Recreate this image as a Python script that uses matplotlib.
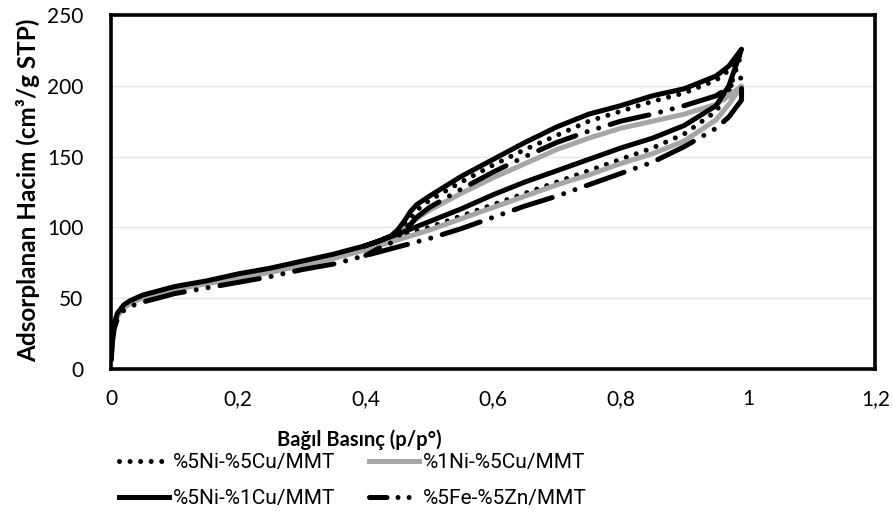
import matplotlib
matplotlib.use("Agg")
import matplotlib.pyplot as plt
from matplotlib.lines import Line2D

# bağıl basınç noktaları (adsorpsiyon ve desorpsiyon kolları)
p_ads = [0.0005, 0.002, 0.005, 0.01, 0.02, 0.03, 0.05, 0.075, 0.1, 0.15, 0.2, 0.25, 0.3, 0.35,
         0.4, 0.45, 0.5, 0.55, 0.6, 0.65, 0.7, 0.75, 0.8, 0.85, 0.9, 0.95, 0.97, 0.99]
p_des = [0.99, 0.97, 0.95, 0.9, 0.85, 0.8, 0.75, 0.7, 0.65, 0.6, 0.55, 0.5, 0.48, 0.47,
         0.46, 0.45, 0.44, 0.42, 0.4]

# %5Ni-%5Cu/MMT (noktalı)
niCu55_ads = [7, 20, 30, 37, 43, 47, 51, 54, 57, 61, 65, 70, 74, 79,
              85, 93, 100, 108, 116, 124, 132, 140, 148, 156, 166, 182, 196, 223]
niCu55_des = [223, 211, 204, 195, 189, 182, 175, 165, 155, 144, 132, 119, 112, 106,
              101, 97, 93, 89, 86]

# %1Ni-%5Cu/MMT (gri)
niCu15_ads = [7, 20, 30, 37, 43, 46, 50, 53, 56, 60, 64, 68, 73, 78,
              84, 91, 98, 106, 114, 122, 130, 137, 145, 152, 161, 176, 187, 200]
niCu15_des = [200, 193, 187, 180, 175, 170, 163, 155, 145, 135, 124, 112, 106, 102,
              98, 94, 91, 88, 84]

# %5Ni-%1Cu/MMT (düz siyah)
niCu51_ads = [8, 22, 32, 39, 45, 48, 52, 55, 58, 62, 67, 71, 76, 81,
              87, 95, 104, 113, 123, 132, 140, 148, 156, 163, 172, 186, 200, 226]
niCu51_des = [226, 214, 207, 198, 193, 186, 180, 171, 160, 148, 136, 122, 116, 111,
              104, 98, 94, 90, 87]

# %5Fe-%5Zn/MMT (uzun çizgi-nokta-nokta)
feZn_ads = [6, 18, 28, 35, 41, 44, 47, 50, 53, 57, 61, 65, 70, 74,
            80, 86, 92, 99, 107, 115, 122, 130, 138, 146, 157, 170, 178, 190]
feZn_des = [206, 199, 193, 186, 180, 175, 168, 160, 150, 139, 127, 114, 107, 102,
            98, 93, 89, 85, 80]

labels = ["%5Ni-%5Cu/MMT", "%1Ni-%5Cu/MMT", "%5Ni-%1Cu/MMT", "%5Fe-%5Zn/MMT"]

fig = plt.figure(figsize=(8.95, 5.21), dpi=100)
ax = fig.add_axes([0.124, 0.2927, 0.854, 0.678])

x = p_ads + p_des
lw = 3.6
l1, = ax.plot(x, niCu55_ads + niCu55_des, color="black", lw=lw,
              linestyle=(0, (0.01, 2.1)), dash_capstyle="round")
l2, = ax.plot(x, niCu15_ads + niCu15_des, color="#a6a6a6", lw=lw, solid_joinstyle="round")
l3, = ax.plot(x, niCu51_ads + niCu51_des, color="black", lw=lw, solid_joinstyle="round")
l4, = ax.plot(x, feZn_ads + feZn_des, color="black", lw=lw,
              linestyle=(0, (8, 2.4, 0.01, 2.4, 0.01, 2.4)), dash_capstyle="round")
# shorter pattern for the legend sample (dash + two dots)
l4_leg = Line2D([], [], color="black", lw=lw, dash_capstyle="round",
                linestyle=(0, (3.5, 2.2, 0.01, 2.2, 0.01, 2.2)))

ax.set_xlim(0, 1.2)
ax.set_ylim(0, 250)
ax.set_xticks([0, 0.2, 0.4, 0.6, 0.8, 1, 1.2])
ax.set_xticklabels(["0", "0,2", "0,4", "0,6", "0,8", "1", "1,2"])
ax.set_yticks([0, 50, 100, 150, 200, 250])
ax.grid(axis="y", color="#e6e6e6", lw=1)
ax.set_axisbelow(True)
ax.tick_params(length=0, labelsize=15)
ax.tick_params(axis="x", pad=15)
ax.tick_params(axis="y", pad=20)
for lab in ax.get_xticklabels() + ax.get_yticklabels():
    lab.set_family("Lato")
for s in ax.spines.values():
    s.set_linewidth(2.6)
    s.set_color("black")

fig.text(28 / 895, 1 - 190 / 521, "Adsorplanan Hacim (cm³/g STP)", rotation=90,
         ha="center", va="center", fontsize=17.5, fontweight="bold", family="Lato")
fig.text(359 / 895, 1 - 440 / 521, "Bağıl Basınç (p/p°)", ha="center", va="center",
         fontsize=14.5, fontweight="bold", family="Lato")

# legend: matplotlib fills columns first
leg = fig.legend([l1, l3, l2, l4_leg], [labels[0], labels[2], labels[1], labels[3]],
                 ncol=2, loc="upper left", bbox_to_anchor=(0.133, 0.13), frameon=False,
                 prop={"family": "Roboto", "size": 15},
                 handlelength=2.4, handletextpad=0.2, columnspacing=1.6, labelspacing=0.8,
                 borderaxespad=0, borderpad=0)

fig.savefig("out.png", dpi=100)
